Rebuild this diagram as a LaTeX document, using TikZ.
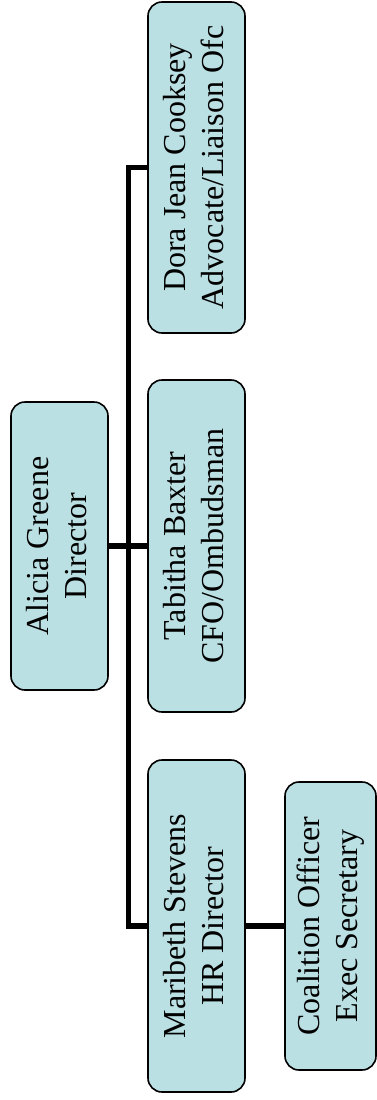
\documentclass[tikz,border=0pt]{standalone}
\usepackage{fontspec}
\setmainfont{Liberation Serif}
\usepackage{graphicx}
\definecolor{boxfill}{RGB}{187,224,227}
\begin{document}
\begin{tikzpicture}[x=1pt,y=-1pt,
  orgbox/.style={draw=black, line width=1.6pt, fill=boxfill, rounded corners=14pt,
    inner sep=0pt, minimum width=97pt},
  conn/.style={line width=5.5pt, line cap=rect}]
\useasboundingbox (0,0) rectangle (377,1100);
\newcommand{\lbl}[2]{\rotatebox{90}{\fontsize{32}{38}\selectfont\begin{tabular}{@{}c@{}}#1\\#2\end{tabular}}}
\node[orgbox, minimum height=288pt] (alicia) at (59.5,546) {\lbl{Alicia Greene}{Director}};
\node[orgbox, minimum height=331pt] (dora) at (196.5,167.5) {\lbl{Dora Jean Cooksey}{Advocate/Liaison Ofc}};
\node[orgbox, minimum height=332pt] (tabitha) at (196.5,546) {\lbl{Tabitha Baxter}{CFO/Ombudsman}};
\node[orgbox, minimum height=332pt] (maribeth) at (196.5,926) {\lbl{Maribeth Stevens}{HR Director}};
\node[orgbox, minimum height=288pt, minimum width=91pt] (coal) at (330.5,926) {\lbl{Coalition Officer}{Exec Secretary}};
\coordinate (tt) at (128.5,167.5);
\coordinate (tb) at (128.5,926);
\begin{scope}[on background layer/.try]
\end{scope}
\draw[conn, line cap=butt] (dora.west) -- (tt) -- (tb) -- (maribeth.west);
\draw[conn, line cap=butt] (alicia.east) -- (tabitha.west);
\draw[conn, line cap=butt] (maribeth.east) -- (coal.west);
\end{tikzpicture}
\end{document}
